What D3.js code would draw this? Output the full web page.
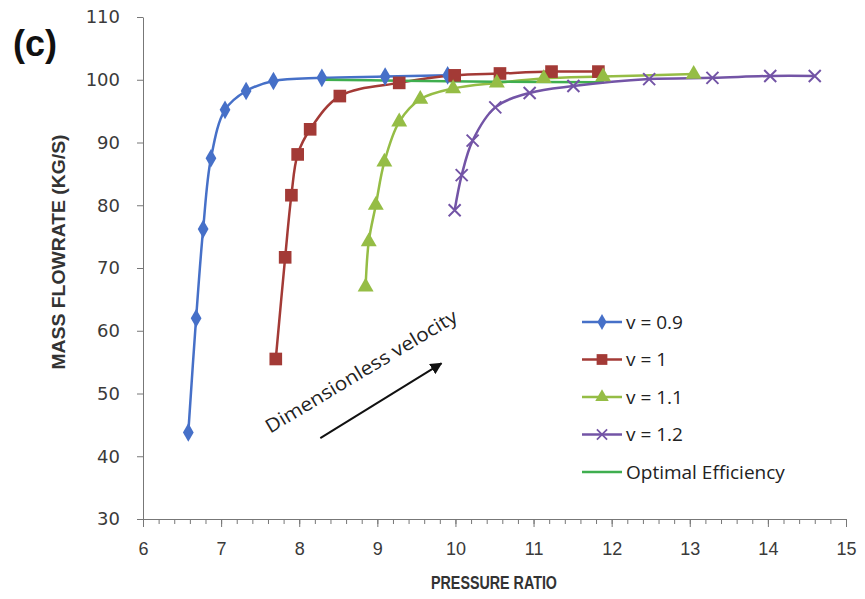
<!DOCTYPE html>
<html>
<head>
<meta charset="utf-8">
<script src="https://cdn.jsdelivr.net/npm/d3@7"></script>
<style>
    body { margin: 0; background: #fff; }
    svg { display: block; }
</style>
</head>
<body>
<div id="chart"></div>
<script>
// pressure ratio / mass flowrate
var v09X = [6.58, 6.68, 6.77, 6.87, 7.05, 7.32, 7.67, 8.29, 9.10, 9.90];
var v09Y = [43.8, 62.0, 76.2, 87.5, 95.2, 98.2, 99.8, 100.3, 100.5, 100.7];

var v10X = [7.70, 7.82, 7.90, 7.98, 8.14, 8.52, 9.28, 9.99, 10.57, 11.23, 11.83];
var v10Y = [55.5, 71.7, 81.6, 88.1, 92.1, 97.4, 99.5, 100.7, 101.0, 101.3, 101.3];

var v11X = [8.85, 8.89, 8.98, 9.09, 9.28, 9.55, 9.97, 10.53, 11.13, 11.89, 13.05];
var v11Y = [67.0, 74.2, 80.0, 86.9, 93.3, 96.9, 98.6, 99.5, 100.2, 100.5, 100.9];

var v12X = [9.99, 10.08, 10.22, 10.51, 10.95, 11.51, 12.48, 13.29, 14.03, 14.60];
var v12Y = [79.2, 84.8, 90.3, 95.6, 97.9, 99.0, 100.1, 100.3, 100.6, 100.6];

var optX = [8.29, 9.3, 10.5, 11.9];
var optY = [100.0, 99.85, 99.7, 99.6];

var xTicks = [6, 7, 8, 9, 10, 11, 12, 13, 14, 15];
var yTicks = [30, 40, 50, 60, 70, 80, 90, 100, 110];
var seriesNames = ["v = 0.9", "v = 1", "v = 1.1", "v = 1.2", "Optimal Efficiency"];

function zip(xs, ys) {
    return xs.map((x, i) => ({ x: x, y: ys[i] }));
}

var series = [
    { name: seriesNames[0], data: zip(v09X, v09Y), color: "#4670c8", marker: "diamond" },
    { name: seriesNames[1], data: zip(v10X, v10Y), color: "#a33a36", marker: "square" },
    { name: seriesNames[2], data: zip(v11X, v11Y), color: "#95bd45", marker: "triangle" },
    { name: seriesNames[3], data: zip(v12X, v12Y), color: "#7354a6", marker: "cross" },
    { name: seriesNames[4], data: zip(optX, optY), color: "#3fae4f", marker: null }
];

var width = 865;
var height = 599;
var margin = { top: 17, right: 19, bottom: 80, left: 143 };

var x = d3.scaleLinear()
    .domain([6, 15])
    .range([margin.left, width - margin.right]);

var y = d3.scaleLinear()
    .domain([30, 110])
    .range([height - margin.bottom, margin.top]);

const svg = d3.select("#chart").append("svg")
    .attr("width", width)
    .attr("height", height)
    .attr("font-family", "'Open Sans', sans-serif");

// minor ticks on the x axis
svg.append("g")
    .attr("transform", `translate(0,${y(30)})`)
    .call(d3.axisBottom(x).tickValues(d3.range(6, 15.01, 0.2)).tickSize(5).tickFormat(""))
    .call(g => g.select(".domain").remove())
    .call(g => g.selectAll("line").attr("stroke", "#777"));

svg.append("g")
    .attr("transform", `translate(0,${y(30)})`)
    .call(d3.axisBottom(x).tickValues(xTicks).tickSize(8).tickPadding(15).tickSizeOuter(0))
    .call(g => g.select(".domain").attr("stroke", "#777"))
    .call(g => g.selectAll("line").attr("stroke", "#777"))
    .call(g => g.selectAll("text")
        .attr("font-size", 18)
        .attr("fill", "#3a3a3a"));

svg.append("g")
    .attr("transform", `translate(${x(6)},0)`)
    .call(d3.axisLeft(y).tickValues(yTicks).tickSize(6).tickPadding(17).tickSizeOuter(0))
    .call(g => g.select(".domain").attr("stroke", "#777"))
    .call(g => g.selectAll("line").attr("stroke", "#777"))
    .call(g => g.selectAll("text")
        .attr("font-family", "'DejaVu Sans', sans-serif")
        .attr("font-size", 18)
        .attr("fill", "#3a3a3a"));

// axis titles
svg.append("text")
    .attr("x", 494)
    .attr("y", 589)
    .attr("text-anchor", "middle")
    .attr("font-family", "'Liberation Sans', sans-serif")
    .attr("font-weight", "bold")
    .attr("font-size", 19)
    .attr("textLength", 126)
    .attr("lengthAdjust", "spacingAndGlyphs")
    .attr("fill", "#333")
    .text("PRESSURE RATIO");

svg.append("text")
    .attr("transform", "translate(65,252) rotate(-90)")
    .attr("text-anchor", "middle")
    .attr("font-family", "'Liberation Sans', sans-serif")
    .attr("font-weight", "bold")
    .attr("font-size", 19)
    .attr("textLength", 235)
    .attr("lengthAdjust", "spacingAndGlyphs")
    .attr("fill", "#333")
    .text("MASS FLOWRATE (KG/S)");

svg.append("text")
    .attr("x", 13)
    .attr("y", 56)
    .attr("font-family", "'Liberation Sans', Arial, sans-serif")
    .attr("font-weight", "bold")
    .attr("font-size", 36)
    .attr("fill", "#111")
    .text("(c)");

var line = d3.line()
    .x(d => x(d.x))
    .y(d => y(d.y))
    .curve(d3.curveCatmullRom.alpha(0.5));

var symbols = {
    diamond: d3.symbol().type(d3.symbolDiamond).size(100),
    square: d3.symbol().type(d3.symbolSquare).size(160),
    triangle: d3.symbol().type(d3.symbolTriangle).size(110)
};

function drawMarker(g, type, color) {
    if (type === "cross") {
        g.append("path")
            .attr("d", "M-6,-6L6,6M-6,6L6,-6")
            .attr("stroke", color)
            .attr("stroke-width", 2)
            .attr("fill", "none");
    } else if (type) {
        g.append("path")
            .attr("d", symbols[type]())
            .attr("fill", color);
    }
}

// lines (optimal line drawn before purple)
var order = [0, 1, 2, 4, 3];
order.forEach(function (i) {
    var s = series[i];
    svg.append("path")
        .datum(s.data)
        .attr("fill", "none")
        .attr("stroke", s.color)
        .attr("stroke-width", 2.5)
        .attr("d", line);
});

series.forEach(function (s) {
    if (!s.marker) return;
    svg.append("g")
        .selectAll("g")
        .data(s.data)
        .join("g")
        .attr("transform", d => `translate(${x(d.x)},${y(d.y)})`)
        .each(function () { drawMarker(d3.select(this), s.marker, s.color); });
});

// annotation arrow
svg.append("defs").append("marker")
    .attr("id", "arrow")
    .attr("viewBox", "0 0 10 10")
    .attr("refX", 9)
    .attr("refY", 5)
    .attr("markerWidth", 6)
    .attr("markerHeight", 6)
    .attr("orient", "auto")
    .append("path")
    .attr("d", "M0,0L10,5L0,10z")
    .attr("fill", "#111");

svg.append("line")
    .attr("x1", x(8.27))
    .attr("y1", y(42.9))
    .attr("x2", x(9.82))
    .attr("y2", y(54.8))
    .attr("stroke", "#111")
    .attr("stroke-width", 2)
    .attr("marker-end", "url(#arrow)");

svg.append("text")
    .attr("transform", `translate(${x(7.63)},${y(43.6)}) rotate(-31)`)
    .attr("font-size", 19)
    .attr("textLength", 220)
    .attr("lengthAdjust", "spacingAndGlyphs")
    .attr("fill", "#222")
    .text("Dimensionless velocity");

// legend
var legend = svg.append("g")
    .selectAll("g")
    .data(series)
    .join("g")
    .attr("transform", (d, i) => `translate(582,${322 + i * 37.5})`);

legend.append("line")
    .attr("x1", 0)
    .attr("x2", 40)
    .attr("stroke", d => d.color)
    .attr("stroke-width", 2.5);

legend.each(function (d) {
    var g = d3.select(this).append("g").attr("transform", "translate(20,0) scale(0.85)");
    drawMarker(g, d.marker, d.color);
});

legend.append("text")
    .attr("x", 44)
    .attr("dy", "0.35em")
    .attr("font-size", 19)
    .attr("fill", "#222")
    .text(d => d.name);
</script>
</body>
</html>
